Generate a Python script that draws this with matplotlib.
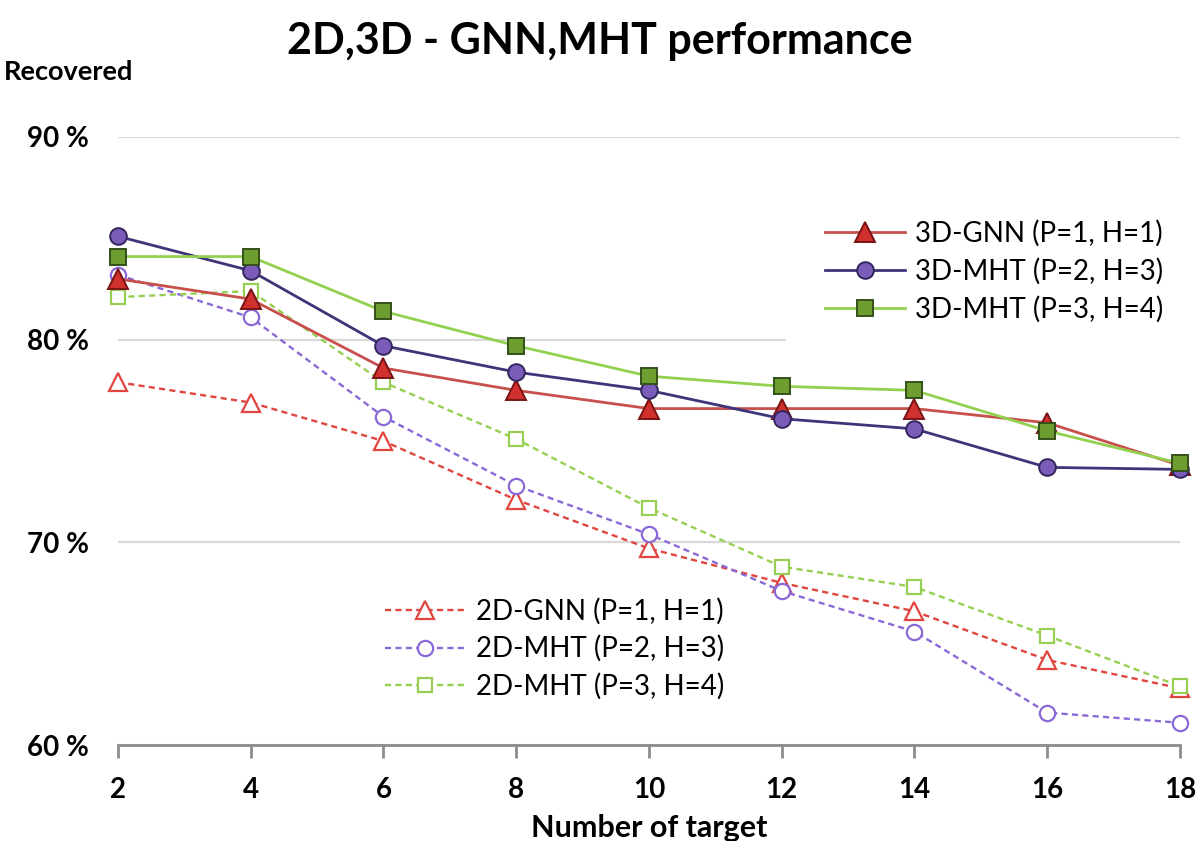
import matplotlib

matplotlib.use("Agg")
import matplotlib.pyplot as plt
from matplotlib.ticker import FuncFormatter

plt.rcParams["font.family"] = ["Lato", "DejaVu Sans"]

# --- data ---
targets = [2, 4, 6, 8, 10, 12, 14, 16, 18]
gnn_3d = [83.0, 82.0, 78.6, 77.5, 76.6, 76.6, 76.6, 75.9, 73.8]
mht23_3d = [85.1, 83.4, 79.7, 78.4, 77.5, 76.1, 75.6, 73.7, 73.6]
mht34_3d = [84.1, 84.1, 81.4, 79.7, 78.2, 77.7, 77.5, 75.5, 73.9]
gnn_2d = [77.9, 76.9, 75.0, 72.1, 69.7, 68.0, 66.6, 64.2, 62.8]
mht23_2d = [83.2, 81.1, 76.2, 72.8, 70.4, 67.6, 65.6, 61.6, 61.1]
mht34_2d = [82.1, 82.4, 77.9, 75.1, 71.7, 68.8, 67.8, 65.4, 62.9]
y_ticks = [60, 70, 80, 90]

labels_3d = ["3D-GNN (P=1, H=1)", "3D-MHT (P=2, H=3)", "3D-MHT (P=3, H=4)"]
labels_2d = ["2D-GNN (P=1, H=1)", "2D-MHT (P=2, H=3)", "2D-MHT (P=3, H=4)"]

fig = plt.figure(figsize=(12, 8.41), dpi=100)
ax = fig.add_axes([0.0983, 0.1141, 0.885, 0.723])

dash = (0, (2.6, 1.8))
kw2d = dict(lw=1.7, ls=dash, markerfacecolor="white", markeredgewidth=1.6,
            clip_on=False, zorder=3)
l2a, = ax.plot(targets, gnn_2d, color="#E0463F", marker="^", ms=13, **kw2d)
l2b, = ax.plot(targets, mht23_2d, color="#8A68D6", marker="o", ms=11, **kw2d)
l2c, = ax.plot(targets, mht34_2d, color="#96CF52", marker="s", ms=10, **kw2d)

kw3d = dict(lw=2, markeredgewidth=1.4, clip_on=False, zorder=4)
l3a, = ax.plot(targets, gnn_3d, color="#C8504C", marker="^", ms=14,
               markerfacecolor="#D0302E", markeredgecolor="#7A1414", **kw3d)
l3b, = ax.plot(targets, mht23_3d, color="#3E3478", marker="o", ms=12,
               markerfacecolor="#7B5CB8", markeredgecolor="#33265F", **kw3d)
l3c, = ax.plot(targets, mht34_3d, color="#92D050", marker="s", ms=11,
               markerfacecolor="#6E9E30", markeredgecolor="#34501A", **kw3d)

ax.set_xlim(2, 18)
ax.set_ylim(60, 90)
ax.set_xticks(targets)
ax.set_yticks(y_ticks)
ax.yaxis.set_major_formatter(FuncFormatter(lambda v, _: f"{v:.0f} %"))
ax.grid(axis="y", color="#D9D9D9", lw=1.6, zorder=0)
ax.set_axisbelow(True)

for side in ("left", "right", "top"):
    ax.spines[side].set_visible(False)
ax.spines["bottom"].set_color("#8C8C8C")
ax.spines["bottom"].set_linewidth(2)
ax.tick_params(axis="x", direction="out", length=9, width=2, color="#8C8C8C",
               labelsize=20, pad=14)
ax.tick_params(axis="y", length=0, labelsize=20, pad=21)
for lab in ax.get_xticklabels() + ax.get_yticklabels():
    lab.set_fontweight("bold")

ax.set_xlabel("Number of target", fontsize=22, fontweight="bold", labelpad=8)
fig.text(0.003, 0.914, "Recovered", fontsize=19.5, fontweight="bold",
         ha="left", va="center")
fig.suptitle("2D,3D - GNN,MHT performance", fontsize=31, fontweight="bold",
             x=0.5, y=0.975)

leg_kw = dict(fontsize=20, handlelength=2.9, handletextpad=0.36,
              labelspacing=0.4, borderaxespad=0, fancybox=False,
              framealpha=1, facecolor="white", edgecolor="white")
leg3 = ax.legend([l3a, l3b, l3c], labels_3d, loc="upper left",
                 bbox_to_anchor=(0.655, 0.785), bbox_transform=fig.transFigure,
                 borderpad=1.4, **leg_kw)
ax.add_artist(leg3)
ax.legend([l2a, l2b, l2c], labels_2d, loc="upper left",
          bbox_to_anchor=(0.314, 0.2996), bbox_transform=fig.transFigure,
          borderpad=0.3, **leg_kw)

fig.savefig("out.png", dpi=100)
